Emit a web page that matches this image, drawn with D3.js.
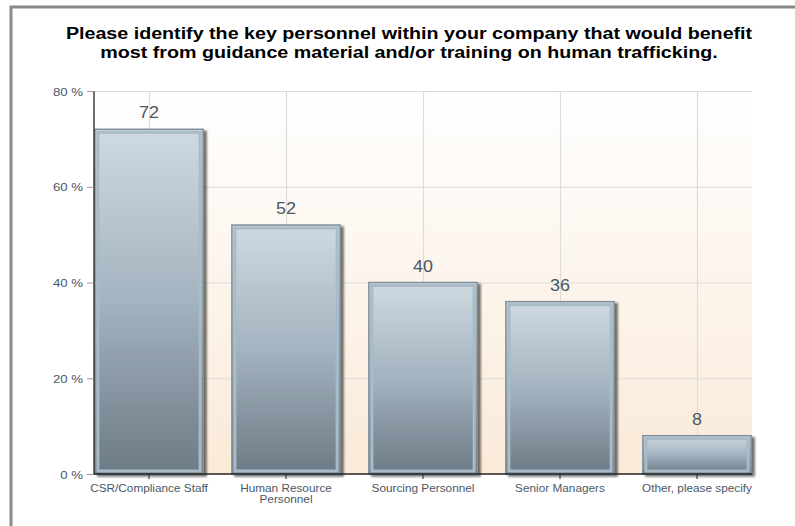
<!DOCTYPE html>
<html>
<head>
<meta charset="utf-8">
<script src="https://cdn.jsdelivr.net/npm/d3@7"></script>
<style>
  html, body { margin: 0; padding: 0; background: #fff; }
  svg { display: block; font-family: "Liberation Sans", Arial, sans-serif; }
</style>
</head>
<body>
<svg id="chart" width="795" height="526"></svg>
<script>
// Survey responses: share of respondents (%) choosing each group of personnel
const categories = [
  ["CSR/Compliance Staff"],
  ["Human Resource", "Personnel"],
  ["Sourcing Personnel"],
  ["Senior Managers"],
  ["Other, please specify"]
];
const values = [72, 52, 40, 36, 8];
const yTicks = [0, 20, 40, 60, 80];
const titleLines = [
  "Please identify the key personnel within your company that would benefit",
  "most from guidance material and/or training on human trafficking."
];

const svg = d3.select("#chart");
const defs = svg.append("defs");

// widen text horizontally around its anchor point
function stretch(sel, sx) {
  sel.each(function() {
    const t = d3.select(this);
    const tx = +t.attr("x") || 0, ty = +t.attr("y") || 0;
    t.attr("x", 0).attr("y", 0)
     .attr("transform", `translate(${tx},${ty}) scale(${sx},1)`);
  });
}

// plot background: white fading to pale peach
const bg = defs.append("linearGradient").attr("id", "bgGrad")
  .attr("x1", 0).attr("y1", 0).attr("x2", 0).attr("y2", 1);
bg.append("stop").attr("offset", "0%").attr("stop-color", "#ffffff");
bg.append("stop").attr("offset", "100%").attr("stop-color", "#faead8");

// bar fill: light steel blue on top to slate at the base
const bar = defs.append("linearGradient").attr("id", "barGrad")
  .attr("x1", 0).attr("y1", 0).attr("x2", 0).attr("y2", 1);
bar.append("stop").attr("offset", "0%").attr("stop-color", "#cfd9e1");
bar.append("stop").attr("offset", "50%").attr("stop-color", "#a3b3bf");
bar.append("stop").attr("offset", "100%").attr("stop-color", "#6c7a85");

const shadow = defs.append("filter").attr("id", "barShadow")
  .attr("x", "-10%").attr("y", "-10%").attr("width", "130%").attr("height", "130%");
shadow.append("feGaussianBlur").attr("in", "SourceAlpha").attr("stdDeviation", 1.2).attr("result", "b");
shadow.append("feOffset").attr("in", "b").attr("dx", 3).attr("dy", 2).attr("result", "o");
shadow.append("feComponentTransfer").attr("in", "o").attr("result", "s")
  .append("feFuncA").attr("type", "linear").attr("slope", 0.55);
const merge = shadow.append("feMerge");
merge.append("feMergeNode").attr("in", "s");
merge.append("feMergeNode").attr("in", "SourceGraphic");

// outer frame
svg.append("path")
  .attr("d", "M11,526 L11,7 L795,7")
  .attr("fill", "none").attr("stroke", "#8a8a8a").attr("stroke-width", 3);

// title
svg.append("g").selectAll("text").data(titleLines).join("text")
  .attr("x", 409).attr("y", (d, i) => 39 + i * 19)
  .attr("text-anchor", "middle")
  .attr("font-size", 16).attr("font-weight", "bold").attr("fill", "#000")
  .text(d => d)
  .call(stretch, 1.23);

const plot = { left: 94, right: 752, top: 91, bottom: 474 };

const x = d3.scaleBand()
  .domain(d3.range(categories.length))
  .range([80.5, 765.5])
  .paddingInner(0.21).paddingOuter(0.105);

const y = d3.scaleLinear().domain([0, 80]).range([plot.bottom, plot.top]);

// background
svg.append("rect")
  .attr("x", plot.left).attr("y", plot.top)
  .attr("width", plot.right - plot.left).attr("height", plot.bottom - plot.top)
  .attr("fill", "url(#bgGrad)");

// horizontal gridlines
svg.append("g").selectAll("line").data(yTicks.filter(d => d > 0)).join("line")
  .attr("x1", plot.left).attr("x2", plot.right)
  .attr("y1", d => y(d) + 0.5).attr("y2", d => y(d) + 0.5)
  .attr("stroke", "#dcdcdc").attr("stroke-width", 1.2);

// vertical gridlines at category centres
svg.append("g").selectAll("line").data(d3.range(categories.length)).join("line")
  .attr("x1", i => Math.round(x(i) + x.bandwidth() / 2) + 0.5)
  .attr("x2", i => Math.round(x(i) + x.bandwidth() / 2) + 0.5)
  .attr("y1", plot.top).attr("y2", plot.bottom)
  .attr("stroke", "#dcdcdc").attr("stroke-width", 1.2);

// bars
const bars = svg.append("g").selectAll("g").data(values).join("g");
bars.append("rect")
  .attr("x", (d, i) => x(i)).attr("y", d => y(d))
  .attr("width", x.bandwidth()).attr("height", d => y(0) - y(d))
  .attr("fill", "url(#barGrad)")
  .attr("stroke", "#7e8f9b").attr("stroke-width", 1.5)
  .attr("filter", "url(#barShadow)");
bars.append("rect")
  .attr("x", (d, i) => x(i) + 3).attr("y", d => y(d) + 3)
  .attr("width", x.bandwidth() - 6).attr("height", d => Math.max(0, y(0) - y(d) - 6))
  .attr("fill", "none")
  .attr("stroke", "#a9bbc7").attr("stroke-width", 3);

// value labels
bars.append("text")
  .attr("x", (d, i) => x(i) + x.bandwidth() / 2)
  .attr("y", d => y(d) - 11)
  .attr("text-anchor", "middle")
  .attr("font-size", 16).attr("fill", "#4b5660")
  .text(d => d)
  .call(stretch, 1.12);

// y axis
const yAxis = d3.axisLeft(y).tickValues(yTicks).tickSize(7).tickPadding(4)
  .tickFormat(d => d + " %");
const ya = svg.append("g").attr("transform", `translate(${plot.left},0)`).call(yAxis);
ya.select(".domain").attr("stroke", "#222").attr("stroke-width", 1.3).attr("d", `M0,${plot.top}V${plot.bottom}`);
ya.selectAll(".tick line").attr("stroke", "#999");
ya.selectAll(".tick text").attr("font-size", 11).attr("fill", "#4a5866")
  .attr("font-family", "'Liberation Sans', Arial, sans-serif")
  .attr("dy", null).attr("y", 4)
  .call(stretch, 1.2);

// x axis
const xAxis = d3.axisBottom(x).tickSize(6).tickFormat("");
const xa = svg.append("g").attr("transform", `translate(0,${plot.bottom})`).call(xAxis);
xa.select(".domain").attr("d", `M${plot.left},0H${plot.right}`).attr("stroke", "#222").attr("stroke-width", 1.5);
xa.selectAll(".tick line").attr("stroke", "#222").attr("y1", 0).attr("y2", 5);
xa.selectAll(".tick").each(function(i) {
  const t = d3.select(this).append("text")
    .attr("text-anchor", "middle").attr("font-size", 10).attr("fill", "#4a5866")
    .attr("font-family", "'Liberation Sans', Arial, sans-serif")
    .attr("transform", "scale(1.18,1)");
  categories[i].forEach((line, k) => {
    t.append("tspan").attr("x", 0).attr("y", 18 + k * 11.5).text(line);
  });
});
</script>
</body>
</html>
